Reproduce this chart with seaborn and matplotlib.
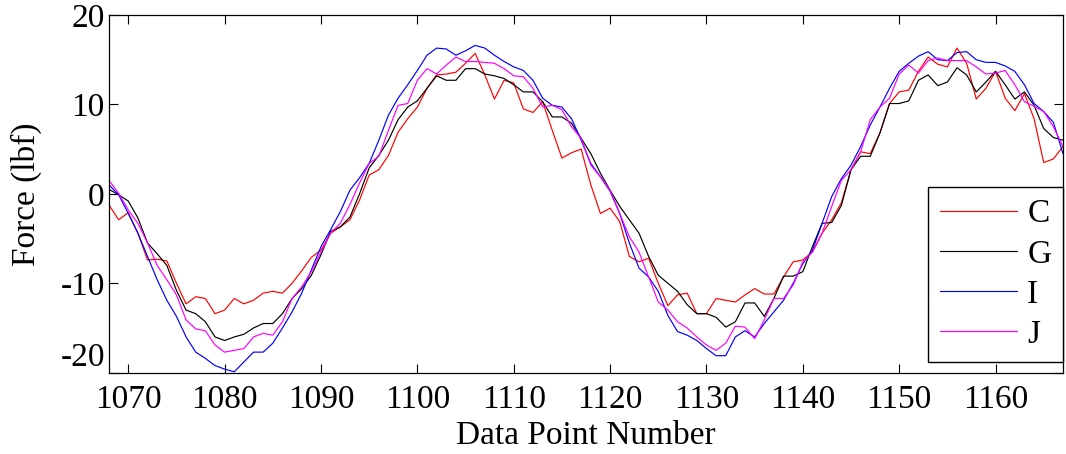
import numpy as np
import pandas as pd
import matplotlib
matplotlib.use("Agg")
import matplotlib.pyplot as plt
import seaborn as sns

x_start = 1068
C = [-1.25, -2.9, -2.1, -4.4, -7.4, -7.3, -7.5, -10.0, -12.3, -11.5,
     -11.7, -13.4, -13.0, -11.7, -12.3, -11.9, -11.1, -10.9, -11.1, -10.0,
     -8.6, -7.1, -6.3, -4.4, -3.7, -2.9, -0.7, 2.1, 2.7, 4.3,
     6.9, 8.4, 9.7, 11.8, 13.3, 13.4, 13.6, 14.6, 15.7, 13.3,
     10.6, 12.7, 12.4, 9.5, 9.1, 10.3, 7.1, 4.0, 4.6, 5.0,
     1.0, -2.2, -1.6, -3.1, -7.0, -7.6, -7.2, -10.0, -12.5, -11.3,
     -11.1, -13.4, -13.4, -11.7, -11.9, -12.1, -11.3, -10.6, -11.2, -11.2,
     -9.3, -7.6, -7.4, -6.5, -4.4, -2.9, -1.0, 2.7, 4.7, 4.5,
     6.8, 10.1, 11.4, 11.6, 13.7, 15.3, 14.5, 14.2, 16.3, 14.6,
     10.6, 11.8, 13.7, 10.7, 9.3, 11.2, 8.4, 3.5, 3.9, 5.3]
G = [0.5, -0.1, -0.8, -2.7, -5.5, -6.7, -8.0, -10.8, -13.0, -13.4,
     -14.3, -16.0, -16.4, -16.0, -15.7, -15.0, -14.5, -14.5, -13.4, -11.7,
     -10.6, -9.1, -6.8, -4.2, -3.7, -2.6, 0.0, 2.9, 4.3, 6.0,
     8.3, 9.7, 10.4, 11.8, 13.2, 12.7, 12.7, 14.0, 14.0, 13.4,
     13.2, 12.9, 12.2, 11.4, 11.4, 10.3, 8.6, 8.6, 7.9, 6.2,
     4.5, 2.3, 0.4, -1.4, -2.9, -4.4, -7.0, -9.1, -10.0, -10.9,
     -12.4, -13.4, -13.4, -13.8, -14.9, -14.3, -12.2, -12.2, -13.7, -11.7,
     -9.2, -9.2, -8.7, -5.9, -3.3, -3.2, -1.3, 2.7, 4.2, 4.2,
     6.8, 10.1, 10.1, 10.4, 12.7, 13.3, 12.1, 12.5, 14.1, 13.3,
     11.4, 12.5, 13.7, 12.2, 10.6, 11.4, 9.9, 7.3, 6.3, 6.0]
I = [1.0, -0.1, -2.2, -4.4, -7.0, -9.6, -11.9, -13.7, -16.0, -17.7,
     -18.4, -19.2, -19.6, -19.9, -18.8, -17.7, -17.7, -16.7, -15.0, -13.2,
     -11.1, -8.5, -5.9, -4.0, -2.0, 0.4, 1.8, 3.4, 6.0, 8.8,
     10.7, 12.2, 13.8, 15.5, 16.3, 16.2, 15.5, 16.0, 16.6, 16.3,
     15.5, 14.8, 14.2, 13.8, 12.7, 10.7, 9.9, 9.7, 8.4, 6.0,
     3.4, 1.9, 0.3, -2.2, -5.5, -8.3, -9.3, -10.9, -13.6, -15.4,
     -15.8, -16.4, -17.3, -18.1, -18.1, -16.0, -15.3, -16.0, -14.5, -13.2,
     -11.9, -10.0, -7.8, -6.3, -3.3, -0.3, 1.7, 3.2, 5.3, 7.7,
     9.7, 11.8, 13.7, 14.6, 15.4, 15.9, 15.0, 14.9, 15.8, 15.9,
     15.0, 14.7, 14.7, 14.3, 13.7, 12.2, 10.1, 9.2, 8.0, 4.5]
J = [1.5, 0.05, -1.8, -3.3, -5.5, -8.0, -9.6, -11.3, -14.1, -15.1,
     -15.3, -16.9, -17.7, -17.5, -17.3, -16.0, -15.6, -15.8, -14.3, -11.7,
     -10.4, -8.7, -6.5, -4.4, -3.3, -1.2, 1.2, 3.4, 4.2, 7.1,
     9.9, 10.1, 12.7, 14.0, 13.4, 14.4, 15.3, 14.8, 14.8, 14.7,
     14.6, 14.0, 13.2, 13.1, 11.8, 9.7, 9.9, 9.4, 7.5, 6.2,
     3.2, 1.9, 0.4, -2.2, -4.8, -6.5, -9.3, -12.1, -13.0, -14.3,
     -15.0, -16.0, -16.9, -17.5, -16.7, -14.8, -14.9, -16.2, -14.1, -11.7,
     -11.7, -10.2, -7.6, -6.5, -4.4, -1.4, 1.5, 2.7, 4.7, 8.3,
     9.7, 10.7, 13.4, 14.4, 13.5, 14.9, 15.2, 14.9, 14.9, 14.9,
     14.2, 13.4, 13.5, 13.8, 12.2, 10.3, 9.8, 9.2, 7.5, 5.3]

series_names = ["C", "G", "I", "J"]
series_colors = ["#ff0000", "#000000", "#0000ff", "#ff00ff"]
x_ticks = [1070, 1080, 1090, 1100, 1110, 1120, 1130, 1140, 1150, 1160]
y_ticks = [-20, -10, 0, 10, 20]

points = np.arange(x_start, x_start + len(C))
frames = []
for name, vals in zip(series_names, [C, G, I, J]):
    frames.append(pd.DataFrame({"Data Point Number": points, "Force": vals, "series": name}))
df = pd.concat(frames, ignore_index=True)

sns.set_style("ticks")
plt.rcParams["font.family"] = ["Liberation Serif", "DejaVu Serif"]
plt.rcParams["axes.unicode_minus"] = False
for k in ["text.color", "axes.labelcolor", "xtick.color", "ytick.color",
          "xtick.labelcolor", "ytick.labelcolor", "axes.edgecolor"]:
    plt.rcParams[k] = "black"
FS = 24

fig = plt.figure(figsize=(10.66, 4.54), dpi=100)
ax = fig.add_axes([109 / 1066, 1 - 372.7 / 454, (1063 - 109) / 1066, (372.7 - 15) / 454])

sns.lineplot(data=df, x="Data Point Number", y="Force", hue="series",
             palette=dict(zip(series_names, series_colors)), linewidth=0.85,
             ax=ax, legend=True, estimator=None, sort=False)

ax.set_xlim(1068, 1167)
ax.set_ylim(-20, 20)
ax.set_xticks(x_ticks)
ax.set_yticks(y_ticks)
ax.tick_params(direction="in", length=6.5, width=0.8, top=True, right=True,
               labelsize=FS, colors="black")
ax.tick_params(axis="x", pad=8.5)
ax.tick_params(axis="y", pad=3)
for s in ax.spines.values():
    s.set_visible(True)
    s.set_linewidth(0.9)
    s.set_color("black")
ax.set_xlabel("Data Point Number", fontsize=FS, labelpad=4)
ax.set_ylabel("Force (lbf)", fontsize=FS, labelpad=13)

# MATLAB nudges the lowest y label up so it clears the x labels
ax.get_yticklabels()[0].set_verticalalignment("bottom")

leg = ax.legend(loc="lower right", bbox_to_anchor=(1.0, 0.031), borderaxespad=0,
                fontsize=FS, frameon=True, fancybox=False, handlelength=2.33,
                labelspacing=0.29, handletextpad=0.3, borderpad=0.35)
leg.get_frame().set_edgecolor("black")
leg.get_frame().set_linewidth(1.0)
leg.get_frame().set_alpha(1)
for h in leg.get_lines():
    h.set_linewidth(0.85)

fig.savefig("out.png", dpi=100)
